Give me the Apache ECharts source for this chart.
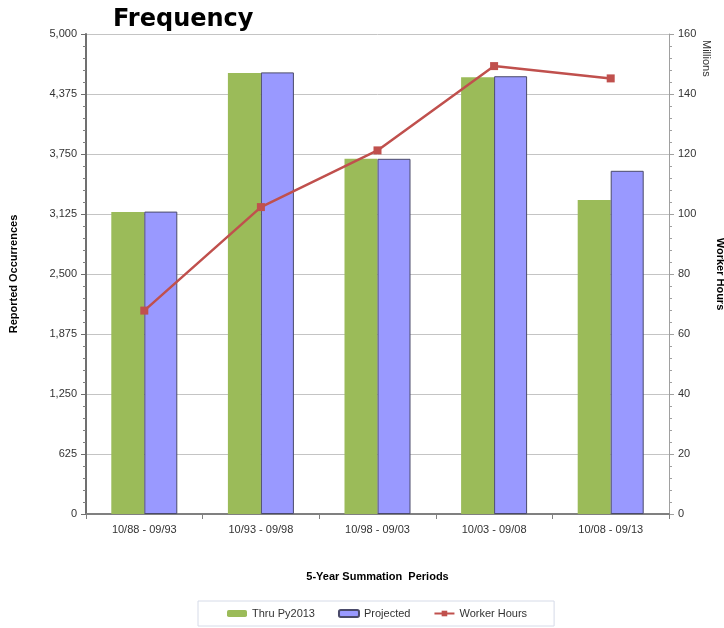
<!DOCTYPE html>
<html>
<head>
<meta charset="utf-8">
<script src="https://cdn.jsdelivr.net/npm/echarts@6/dist/echarts.min.js"></script>
<style>
  html, body { margin: 0; padding: 0; background: #fff; }
  #chart { width: 724px; height: 628px; }
</style>
</head>
<body>
<div id="chart"></div>
<script>
// Five-year summation periods
const periods = ['10/88 - 09/93', '10/93 - 09/98', '10/98 - 09/03', '10/03 - 09/08', '10/08 - 09/13'];
// Reported occurrences
const thruPy2013 = [3145, 4595, 3700, 4550, 3270];
const projected = [3150, 4600, 3700, 4560, 3575];
// Worker hours, millions
const workerHours = [67.8, 102.3, 121.2, 149.3, 145.2];

const leftTicks = { min: 0, max: 5000, interval: 625 };
const rightTicks = { min: 0, max: 160, interval: 20 };

const chart = echarts.init(document.getElementById('chart'));
const labelFont = { fontFamily: 'Liberation Sans, Arial, sans-serif', fontSize: 11, color: '#333' };

chart.setOption({
  animation: false,
  title: {
    text: 'Frequency',
    left: 108, top: 3,
    textStyle: { fontFamily: 'DejaVu Sans', fontWeight: 'bold', fontSize: 24, color: '#000' }
  },
  grid: { left: 86, right: 55, top: 34, bottom: 114, outerBoundsMode: 'none' },
  legend: {
    left: 198, top: 601,
    padding: [7, 27, 7, 29],
    borderColor: '#d6dbe8', borderWidth: 1,
    itemWidth: 20, itemHeight: 7, itemGap: 23,
    textStyle: { fontFamily: 'Liberation Sans, Arial, sans-serif', fontSize: 11, color: '#333' },
    data: ['Thru Py2013', 'Projected', 'Worker Hours']
  },
  xAxis: {
    type: 'category',
    data: periods,
    name: '5-Year Summation  Periods',
    nameLocation: 'middle', nameGap: 57,
    nameTextStyle: { fontFamily: 'Liberation Sans, Arial, sans-serif', fontWeight: 'bold', fontSize: 11, color: '#000' },
    axisLine: { lineStyle: { color: '#808080', width: 2 } },
    axisTick: { show: true, length: 5, lineStyle: { color: '#808080' } },
    axisLabel: Object.assign({ margin: 10 }, labelFont)
  },
  yAxis: [
    {
      type: 'value',
      min: leftTicks.min, max: leftTicks.max, interval: leftTicks.interval,
      name: 'Reported Occurrences',
      nameLocation: 'middle', nameRotate: 90, nameGap: 67,
      nameTextStyle: { fontFamily: 'Liberation Sans, Arial, sans-serif', fontWeight: 'bold', fontSize: 11, color: '#000' },
      axisLine: { show: true, lineStyle: { color: '#707070', width: 2 } },
      axisTick: { show: true, length: 5, lineStyle: { color: '#707070' } },
      minorTick: { show: true, splitNumber: 5, length: 3, lineStyle: { color: '#808080' } },
      splitLine: { show: true, lineStyle: { color: '#c4c4c4', width: 1 } },
      axisLabel: Object.assign({
        margin: 9,
        formatter: v => v.toLocaleString('en-US')
      }, labelFont)
    },
    {
      type: 'value',
      min: rightTicks.min, max: rightTicks.max, interval: rightTicks.interval,
      position: 'right',
      name: 'Worker Hours',
      nameLocation: 'middle', nameRotate: -90, nameGap: 46,
      nameTextStyle: { fontFamily: 'Liberation Sans, Arial, sans-serif', fontWeight: 'bold', fontSize: 11, color: '#000' },
      axisLine: { show: true, lineStyle: { color: '#a0a0a0', width: 1 } },
      axisTick: { show: true, length: 5, lineStyle: { color: '#a0a0a0' } },
      minorTick: { show: true, splitNumber: 5, length: 3, lineStyle: { color: '#a0a0a0' } },
      splitLine: { show: false },
      axisLabel: Object.assign({ margin: 9 }, labelFont)
    }
  ],
  graphic: [{
    type: 'text',
    x: 712, y: 40,
    rotation: -Math.PI / 2,
    style: { text: 'Millions', fill: '#333', font: '11px "Liberation Sans", Arial, sans-serif' }
  }],
  series: [
    {
      name: 'Thru Py2013', type: 'bar', yAxisIndex: 0,
      data: thruPy2013, barWidth: 33, barGap: '0%',
      itemStyle: { color: '#9bbb59' }
    },
    {
      name: 'Projected', type: 'bar', yAxisIndex: 0,
      data: projected, barWidth: 33, barGap: '0%',
      itemStyle: { color: '#9999ff', borderColor: '#4a4a6a', borderWidth: 1 }
    },
    {
      name: 'Worker Hours', type: 'line', yAxisIndex: 1,
      data: workerHours,
      symbol: 'rect', symbolSize: 8,
      lineStyle: { color: '#c0504d', width: 2.5 },
      itemStyle: { color: '#c0504d' }
    }
  ]
});
</script>
</body>
</html>
